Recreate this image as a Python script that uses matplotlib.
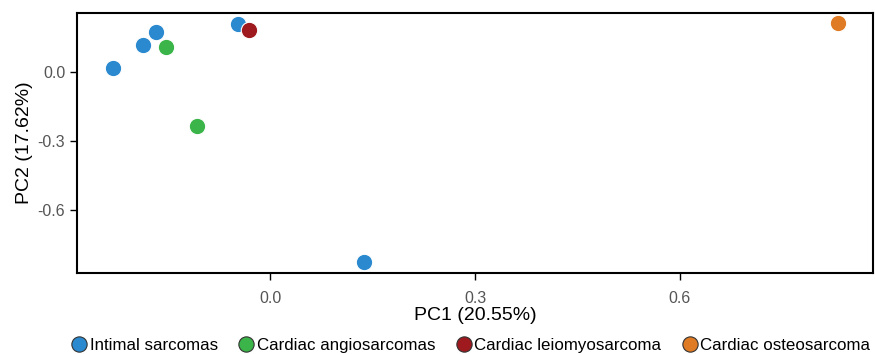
import matplotlib
matplotlib.use("Agg")
import matplotlib.pyplot as plt
from matplotlib.lines import Line2D

plt.rcParams['font.family'] = ['Liberation Sans', 'DejaVu Sans']

# PCA scores
groups = ["Intimal sarcomas", "Cardiac angiosarcomas", "Cardiac leiomyosarcoma", "Cardiac osteosarcoma"]
colors = ["#2B8ACF", "#3BB54A", "#9E1A1E", "#E07B25"]
pc1 = {
    "Intimal sarcomas": [-0.231, -0.186, -0.168, -0.047, 0.138],
    "Cardiac angiosarcomas": [-0.152, -0.108],
    "Cardiac leiomyosarcoma": [-0.031],
    "Cardiac osteosarcoma": [0.832],
}
pc2 = {
    "Intimal sarcomas": [0.017, 0.117, 0.174, 0.209, -0.826],
    "Cardiac angiosarcomas": [0.109, -0.235],
    "Cardiac leiomyosarcoma": [0.183],
    "Cardiac osteosarcoma": [0.213],
}

fig = plt.figure(figsize=(8.75, 3.54), dpi=100)
ax = fig.add_axes([0.088, 0.229, 0.91, 0.734])

for g, c in zip(groups, colors):
    ax.scatter(pc1[g], pc2[g], s=140, color=c, edgecolors="white", linewidths=0.8, zorder=3)

ax.set_xlim(-0.283, 0.883)
ax.set_ylim(-0.874, 0.257)
ax.set_xticks([0.0, 0.3, 0.6])
ax.set_yticks([0.0, -0.3, -0.6])
ax.set_xticklabels(["0.0", "0.3", "0.6"])
ax.set_yticklabels(["0.0", "-0.3", "-0.6"])
ax.tick_params(colors="black", labelcolor="#555555", labelsize=11.5, length=5, width=1)
ax.tick_params(axis="x", pad=8)
for s in ax.spines.values():
    s.set_linewidth(1.5)
    s.set_color("black")
ax.set_xlabel("PC1 (20.55%)", fontsize=14, labelpad=1)
ax.set_ylabel("PC2 (17.62%)", fontsize=14, labelpad=3)

handles = [Line2D([], [], marker="o", linestyle="none", markersize=11,
                  markerfacecolor=c, markeredgecolor="#333333", markeredgewidth=0.8)
           for c in colors]
fig.legend(handles, groups, loc="center left", bbox_to_anchor=(0.081, 0.025),
           ncol=4, frameon=False, fontsize=12.2, handletextpad=0.1,
           columnspacing=1.2, handlelength=1.0, borderaxespad=0, borderpad=0)

fig.savefig("out.png", dpi=100)
